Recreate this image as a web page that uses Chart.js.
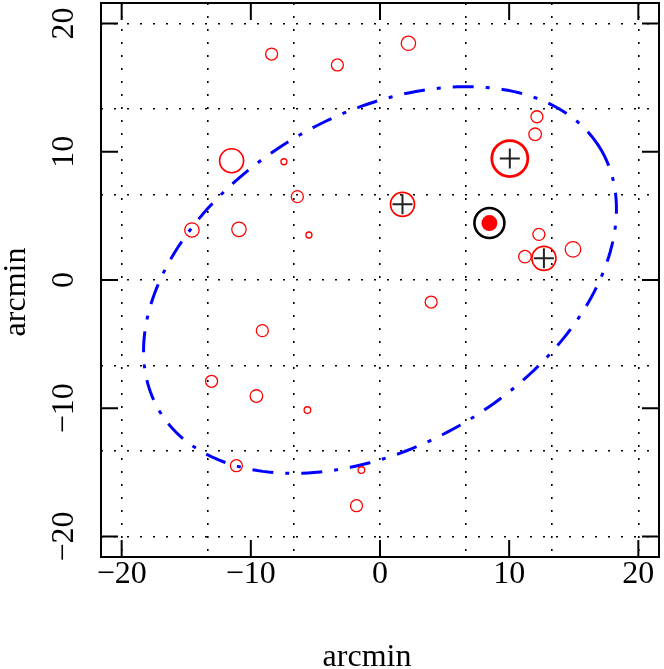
<!DOCTYPE html>
<html>
<head>
<meta charset="utf-8">
<script src="https://cdn.jsdelivr.net/npm/chart.js"></script>
<style>
  html, body { margin: 0; padding: 0; background: #fff; }
  #wrap { width: 664px; height: 669px; }
</style>
</head>
<body>
<div id="wrap"><canvas id="skyChart" width="664" height="669"></canvas></div>
<script>
// source positions (arcmin) and symbol size (cex)
var srcX = [-8.39, -3.30, -11.49, -7.44, -6.40, -14.56, -10.92, -5.50, 2.20, 12.15, 12.01, 10.05, 1.74,
            12.30, 11.22, 12.69, 14.94, -9.11, -13.04, -9.57, -5.62, -11.12, -1.44, -1.82, 3.96];
var srcY = [17.62, 16.77, 9.30, 9.22, 6.50, 3.90, 3.95, 3.51, 18.46, 12.73, 11.36, 9.47, 5.90,
            3.56, 1.82, 1.69, 2.39, -3.95, -7.90, -9.05, -10.14, -14.48, -14.82, -17.60, -1.72];
var srcCex = [1, 1, 2, 0.5, 1, 1.2, 1.2, 0.5, 1.2, 1, 1.05, 3, 2,
              1, 1.05, 2, 1.3, 1, 1, 1.05, 0.55, 1, 0.55, 1, 1];

// sources flagged with a cross
var crossX = [10.05, 1.74, 12.69];
var crossY = [9.47, 5.90, 1.69];

// target: black ring around a filled red source
var targetX = [8.47];
var targetY = [4.44];

// ellipse: centre, semi-axes (arcmin), tilt (degrees)
var ellCentre = [0, 0];
var ellAxes = [19.9, 12.9];
var ellTilt = 31;

// axes
var axisTicks = [-20, -10, 0, 10, 20];
var gridLines = [-20, -40 / 3, -20 / 3, 0, 20 / 3, 40 / 3, 20];
var axisRange = [-21.6, 21.6];

var CEX_PX = 6;

// outline of the ellipse
var ellPts = [];
var th = ellTilt * Math.PI / 180;
for (var i = 0; i <= 240; i++) {
  var t = 2 * Math.PI * i / 240;
  var ex = ellAxes[0] * Math.cos(t), ey = ellAxes[1] * Math.sin(t);
  ellPts.push({
    x: ellCentre[0] + ex * Math.cos(th) - ey * Math.sin(th),
    y: ellCentre[1] + ex * Math.sin(th) + ey * Math.cos(th)
  });
}

function pts(xs, ys) {
  return xs.map(function (x, k) { return { x: x, y: ys[k] }; });
}

function axisOpts() {
  return {
    type: 'linear',
    min: axisRange[0],
    max: axisRange[1],
    afterBuildTicks: function (s) {
      s.ticks = gridLines.map(function (v) { return { value: v }; });
    },
    ticks: { display: false },
    grid: { color: '#000', lineWidth: 1.6, drawTicks: false },
    border: { display: false, dash: [2, 11] }
  };
}

// frame, inward ticks, labels and titles
var frame = {
  id: 'frame',
  afterDraw: function (chart) {
    var c = chart.ctx, a = chart.chartArea;
    var sx = chart.scales.x, sy = chart.scales.y;
    c.save();
    c.strokeStyle = '#000';
    c.lineWidth = 2;
    c.strokeRect(a.left, a.top, a.right - a.left, a.bottom - a.top);
    c.beginPath();
    axisTicks.forEach(function (v) {
      var px = sx.getPixelForValue(v), py = sy.getPixelForValue(v);
      c.moveTo(px, a.bottom); c.lineTo(px, a.bottom - 17);
      c.moveTo(px, a.top); c.lineTo(px, a.top + 17);
      c.moveTo(a.left, py); c.lineTo(a.left + 17, py);
      c.moveTo(a.right, py); c.lineTo(a.right - 17, py);
    });
    c.stroke();

    c.fillStyle = '#000';
    c.font = '32px "Liberation Serif"';
    c.textAlign = 'center';
    c.textBaseline = 'middle';
    axisTicks.forEach(function (v) {
      var txt = v < 0 ? '\u2212' + (-v) : String(v);
      c.fillText(txt, sx.getPixelForValue(v), a.bottom + 18);
      c.save();
      c.translate(a.left - 36, sy.getPixelForValue(v));
      c.rotate(-Math.PI / 2);
      c.fillText(txt, 0, 0);
      c.restore();
    });

    c.textBaseline = 'alphabetic';
    c.fillText('arcmin', 367, 666);
    c.save();
    c.translate(25, 292);
    c.rotate(-Math.PI / 2);
    c.fillText('arcmin', 0, 0);
    c.restore();
    c.restore();
  }
};

var ctx = document.getElementById('skyChart').getContext('2d');
var skyChart = new Chart(ctx, {
  type: 'scatter',
  data: {
    datasets: [
      {
        data: ellPts,
        showLine: true,
        pointRadius: 0,
        borderColor: '#0000ff',
        borderWidth: 3,
        borderDash: [21, 12, 4, 12],
        borderCapStyle: 'butt',
        tension: 0,
        order: 5
      },
      {
        data: pts(srcX, srcY),
        pointStyle: 'circle',
        pointRadius: srcCex.map(function (s) { return s * CEX_PX; }),
        pointBorderWidth: srcCex.map(function (s) { return s >= 3 ? 2.8 : (s >= 2 ? 1.7 : 1.3); }),
        pointBorderColor: '#ff0000',
        pointBackgroundColor: 'rgba(0,0,0,0)',
        order: 4
      },
      {
        data: pts(targetX, targetY),
        pointStyle: 'circle',
        pointRadius: 8,
        pointBorderWidth: 0,
        pointBackgroundColor: '#ff0000',
        order: 3
      },
      {
        data: pts(targetX, targetY),
        pointStyle: 'circle',
        pointRadius: 15,
        pointBorderWidth: 2.6,
        pointBorderColor: '#000000',
        pointBackgroundColor: 'rgba(0,0,0,0)',
        order: 2
      },
      {
        data: pts(crossX, crossY),
        pointStyle: 'cross',
        pointRadius: 10,
        pointBorderWidth: 2,
        pointBorderColor: '#222222',
        order: 1
      }
    ]
  },
  options: {
    responsive: false,
    animation: false,
    devicePixelRatio: 1,
    events: [],
    layout: { autoPadding: false, padding: { left: 101, top: 3, right: 5, bottom: 112 } },
    plugins: { legend: { display: false }, tooltip: { enabled: false } },
    scales: { x: axisOpts(), y: axisOpts() }
  },
  plugins: [frame]
});
</script>
</body>
</html>
